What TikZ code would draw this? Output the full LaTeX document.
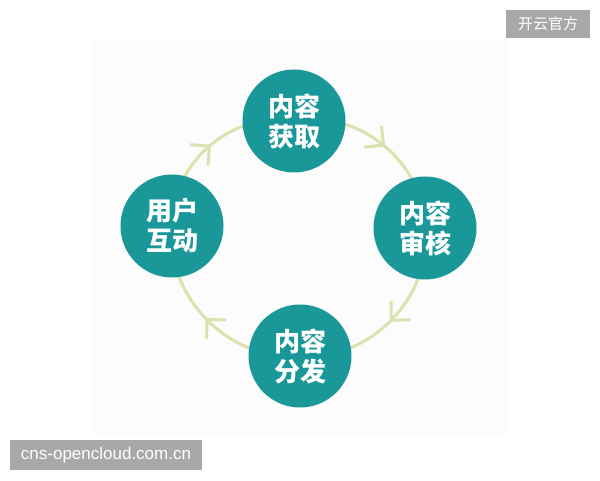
\documentclass[tikz,border=0pt]{standalone}
\usepackage{fontspec}
\setmainfont{Liberation Sans}
\newfontfamily\cjk{Noto Sans CJK SC}
\usetikzlibrary{decorations.markings,backgrounds}
\definecolor{teal1}{HTML}{1A9899}
\definecolor{ringc}{HTML}{DCE1AE}
\definecolor{wmgray}{HTML}{A8A8A8}
\begin{document}
\begin{tikzpicture}[x=1pt,y=1pt,
  stage/.style={circle, fill=teal1, minimum size=103pt, inner sep=0pt, text=white,
    font=\cjk\bfseries\fontsize{26}{30}\selectfont, align=center},
  flow/.style={draw=ringc, line width=3pt, postaction={decorate},
    decoration={markings, mark=at position 0.5 with {\draw[ringc, line width=3pt, line cap=round] (-13pt,13pt) -- (0pt,0pt) -- (-13pt,-13pt);}}},
  wm/.style={fill=wmgray, text=white, inner sep=0pt}]
\useasboundingbox (0,0) rectangle (600,480);
\node[stage] (t) at (294,359) {内容\\获取};
\node[stage] (r) at (425,252) {内容\\审核};
\node[stage] (b) at (300,124) {内容\\分发};
\node[stage] (l) at (172,254) {用户\\互动};
\begin{scope}[on background layer]
\fill[white] (0,0) rectangle (600,480);
\fill[black!1] (93,45) rectangle (507,440);
\draw[flow] (l.center) to[bend left=50] (t.center);
\draw[flow] (t.center) to[bend left=50] (r.center);
\draw[flow] (r.center) to[bend left=50] (b.center);
\draw[flow] (b.center) to[bend left=50] (l.center);
\end{scope}
\node[wm, minimum width=84pt, minimum height=28pt, font=\cjk\fontsize{15}{15}\selectfont] (wm1) at (548,456) {开云官方};
\node[wm, minimum width=192pt, minimum height=30pt, font=\fontsize{17}{17}\selectfont] (wm2) at (106,25) {cns-opencloud.com.cn};
\end{tikzpicture}
\end{document}
